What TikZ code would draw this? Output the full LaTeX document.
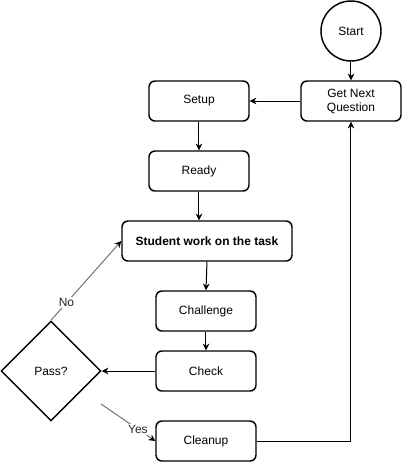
\documentclass[tikz,border=0pt]{standalone}
\usepackage{fontspec}
\setmainfont{Liberation Sans}
\usetikzlibrary{shapes.geometric,arrows.meta}

\begin{document}
\begin{tikzpicture}[x=0.75pt,y=-0.75pt,
		every node/.style={font=\fontsize{9}{10.5}\selectfont},
		stagebox/.style={draw,line width=1.1pt,rounded corners=4.5pt,minimum width=75pt,minimum height=30pt,align=center,inner sep=1pt},
		decision/.style={draw,line width=1.1pt,diamond,aspect=1,minimum width=75pt,minimum height=75pt,inner sep=0pt},
		terminal/.style={draw,line width=1.1pt,circle,minimum size=45pt,inner sep=0pt},
		flow/.style={line width=0.75pt,-{Stealth[length=5pt,width=5pt]}},
		branch/.style={line width=0.75pt,draw=black!55,-{Stealth[length=5pt,width=5pt,black]}},
		edgelabel/.style={fill=white,inner sep=1pt,text=black!85}]
			\useasboundingbox (0,0) rectangle (402,462);

			% START AND NEXT QUESTION
			\node[terminal] (start) at (351,31) {Start};
			\node[stagebox] (next) at (351,101) {Get Next\\Question};

			% MAIN STAGES
			\node[stagebox] (setup) at (199,101) {Setup};
			\node[stagebox] (ready) at (199,171) {Ready};
			\node[stagebox,minimum width=127.5pt] (work) at (207,241) {\textbf{Student work on the task}};
			\node[stagebox] (challenge) at (206,311) {Challenge};
			\node[stagebox] (check) at (206,371) {Check};
			\node[stagebox] (cleanup) at (206,441) {Cleanup};

			% DECISION
			\node[decision] (pass) at (51,371) {Pass?};
			\coordinate (yesfrom) at (101,404);

			\draw[flow] (start) -- (next);
			\draw[flow] (next) -- (setup);
			\draw[flow] (setup) -- (ready);
			\draw[flow] (ready.south) -- (ready.south |- work.north);
			\draw[flow] (work.south) -- (challenge.north);
			\draw[flow] (challenge) -- (check);
			\draw[flow] (check) -- (pass);
			\draw[branch] (pass.north) -- node[edgelabel,pos=0.22] {No} (work.west);
			\draw[branch] (yesfrom) -- node[edgelabel,pos=0.68] {Yes} (cleanup.west);
			\draw[flow] (cleanup.east) -| (next.south);
		\end{tikzpicture}
\end{document}
